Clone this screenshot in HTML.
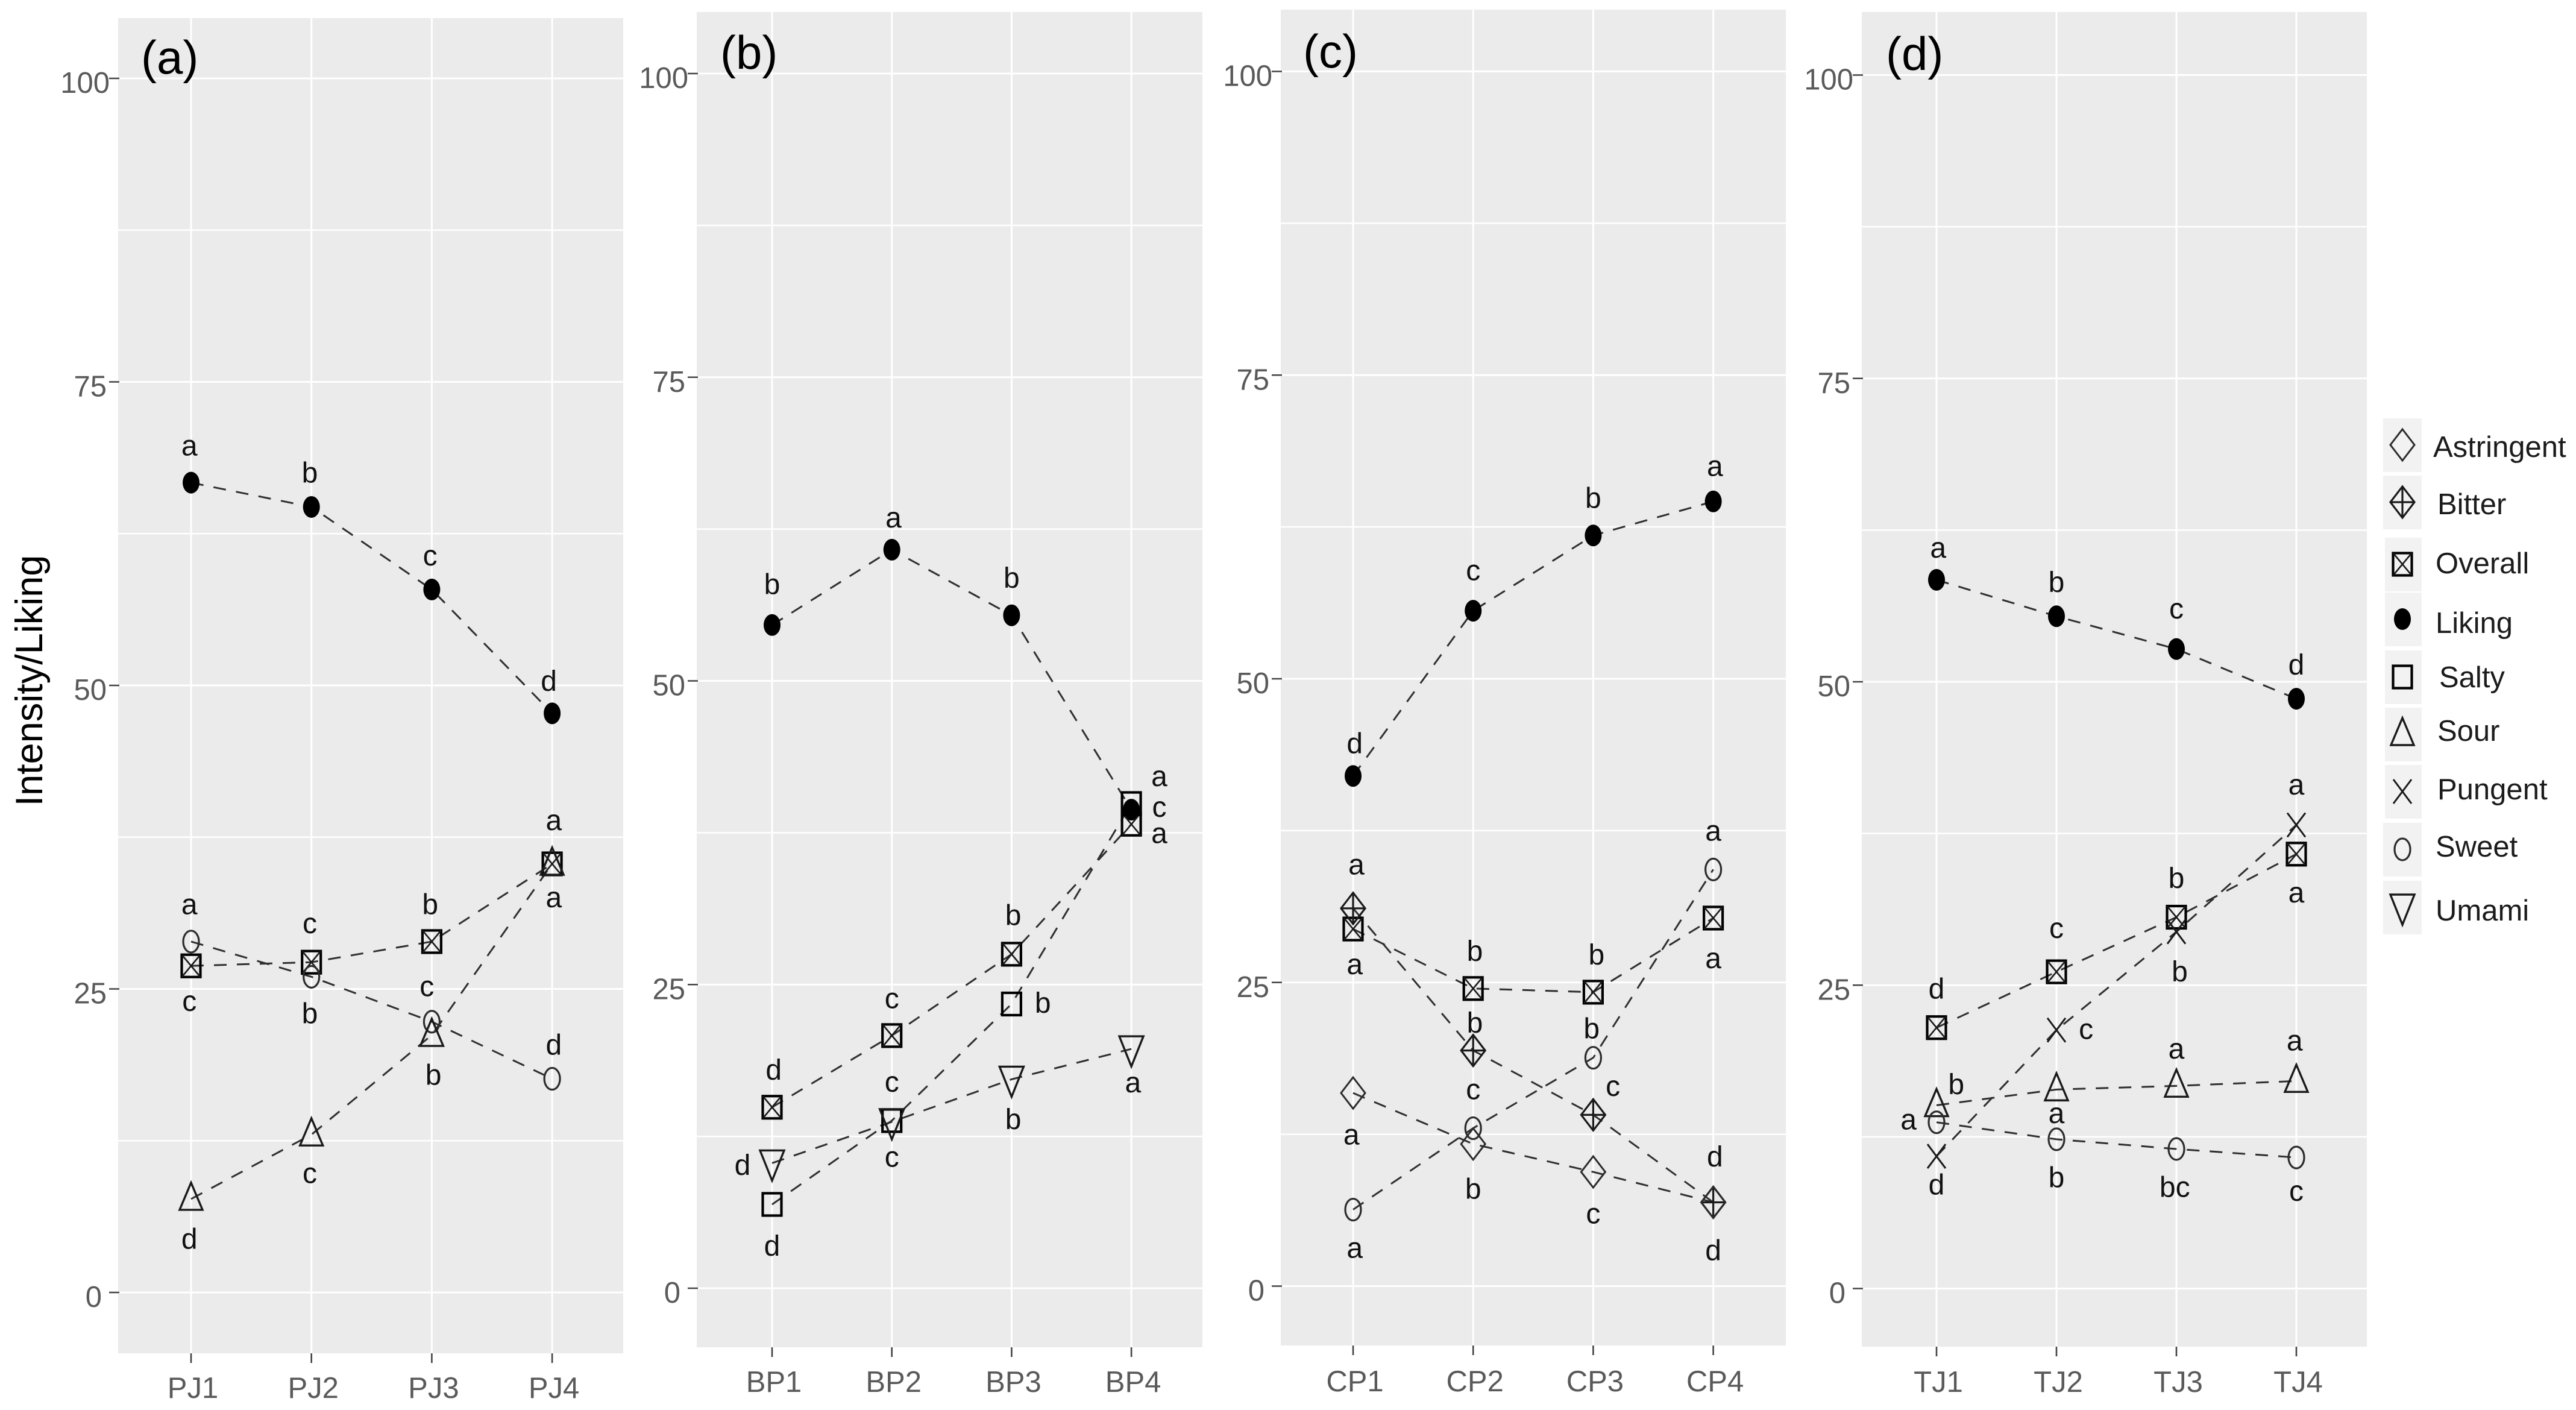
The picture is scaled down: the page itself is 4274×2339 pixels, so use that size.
<!DOCTYPE html>
<html lang="en">
<head>
<meta charset="utf-8">
<title>Intensity/Liking by sample</title>
<style>
html,body{margin:0;padding:0;background:#fff;}
svg{display:block;}
text{font-family:"Liberation Sans",Arial,sans-serif;}
</style>
</head>
<body>
<svg id="chart" xmlns="http://www.w3.org/2000/svg" width="4274" height="2339" viewBox="0 0 4274 2339">
<rect x="0" y="0" width="4274" height="2339" fill="#ffffff"/>
<text transform="translate(70 1129) rotate(-90)" text-anchor="middle" font-size="63" fill="#000000">Intensity/Liking</text>
</svg>
<script>
// ---- shared axis data ----
const yTickValues = [0, 25, 50, 75, 100];
const yMinorValues = [12.5, 37.5, 62.5, 87.5];

// ---- panel (a) data ----
const panelACategories = ['PJ1', 'PJ2', 'PJ3', 'PJ4'];
const panelALiking = [66.7, 64.7, 57.9, 47.7];
const panelAOverall = [26.9, 27.2, 28.9, 35.3];
const panelASweet = [28.9, 26.0, 22.3, 17.6];
const panelASour = [7.7, 13.0, 21.2, 35.3];
const panelALikingLetters = ['a', 'b', 'c', 'd'];
const panelAOverallLetters = ['c', 'c', 'b', 'a'];
const panelASweetLetters = ['a', 'b', 'c', 'd'];
const panelASourLetters = ['d', 'c', 'b', 'a'];

// ---- panel (b) data ----
const panelBCategories = ['BP1', 'BP2', 'BP3', 'BP4'];
const panelBLiking = [54.6, 60.8, 55.4, 39.4];
const panelBOverall = [14.9, 20.8, 27.5, 38.2];
const panelBSalty = [6.9, 13.8, 23.4, 39.9];
const panelBUmami = [10.3, 13.7, 17.2, 19.7];
const panelBLikingLetters = ['b', 'a', 'b', 'c'];
const panelBOverallLetters = ['d', 'c', 'b', 'a'];
const panelBSaltyLetters = ['d', 'c', 'b', 'a'];
const panelBUmamiLetters = ['d', 'c', 'b', 'a'];

// ---- panel (c) data ----
const panelCCategories = ['CP1', 'CP2', 'CP3', 'CP4'];
const panelCLiking = [42.0, 55.6, 61.8, 64.6];
const panelCOverall = [29.4, 24.5, 24.2, 30.3];
const panelCBitter = [31.1, 19.4, 14.1, 6.9];
const panelCAstringent = [15.9, 11.7, 9.4, 6.9];
const panelCSweet = [6.3, 13.0, 18.8, 34.3];
const panelCLikingLetters = ['d', 'c', 'b', 'a'];
const panelCOverallLetters = ['a', 'b', 'b', 'a'];
const panelCBitterLetters = ['a', 'b', 'c', 'd'];
const panelCAstringentLetters = ['a', 'b', 'c', 'd'];
const panelCSweetLetters = ['a', 'c', 'b', 'a'];

// ---- panel (d) data ----
const panelDCategories = ['TJ1', 'TJ2', 'TJ3', 'TJ4'];
const panelDLiking = [58.4, 55.4, 52.7, 48.6];
const panelDOverall = [21.5, 26.1, 30.6, 35.8];
const panelDPungent = [10.9, 21.3, 29.4, 38.2];
const panelDSour = [15.1, 16.4, 16.7, 17.1];
const panelDSweet = [13.7, 12.3, 11.5, 10.8];
const panelDLikingLetters = ['a', 'b', 'c', 'd'];
const panelDOverallLetters = ['d', 'c', 'b', 'a'];
const panelDPungentLetters = ['d', 'c', 'b', 'a'];
const panelDSourLetters = ['b', 'a', 'a', 'a'];
const panelDSweetLetters = ['a', 'b', 'bc', 'c'];

// ---- legend data ----
const legendNames = ['Astringent', 'Bitter', 'Overall', 'Liking', 'Salty', 'Sour', 'Pungent', 'Sweet', 'Umami'];

// ---- layout (not data) ----
const legendKeyLeft = [3954, 3954, 3957, 3957, 3957, 3957, 3957, 3954, 3954];
const legendKeyTop = [694, 789, 892, 983, 1079, 1174, 1269, 1365, 1461];
const legendTextLeft = [4037, 4044, 4041, 4041, 4047, 4044, 4044, 4041, 4041];
const legendTextBase = [758, 853, 951, 1050, 1140, 1229, 1326, 1421, 1527];

const layoutScale = 2.726;
const panels = [
  { id: 'a', tag: '(a)', tagX: 234, tagY: 122, left: 196, right: 1034, top: 30, bottom: 2245, x0: 317, xStep: 199.7, yZero: 2144, yUnit: 20.14, xLabelBase: 2319, categories: panelACategories,
    series: [
      { kind: 'Liking', values: panelALiking, letters: panelALikingLetters, nudges: [[-1,-21],[-1,-21],[-1,-19],[-2,-20]] },
      { kind: 'Overall', values: panelAOverall, letters: panelAOverallLetters, nudges: [[-1,23],[-1,-22],[-1,-23],[1,22]] },
      { kind: 'Sweet', values: panelASweet, letters: panelASweetLetters, nudges: [[-1,-21],[-1,22],[-3,-20],[1,-21]] },
      { kind: 'Sour', values: panelASour, letters: panelASourLetters, nudges: [[-1,24],[-1,25],[1,24],[1,-25]] }
    ] },
  { id: 'b', tag: '(b)', tagX: 1195, tagY: 114, left: 1156, right: 1995, top: 20, bottom: 2235, x0: 1281, xStep: 198.7, yZero: 2137, yUnit: 20.15, xLabelBase: 2309, categories: panelBCategories,
    series: [
      { kind: 'Liking', values: panelBLiking, letters: panelBLikingLetters, nudges: [[0,-25],[1,-18],[0,-23],[17,0]] },
      { kind: 'Overall', values: panelBOverall, letters: panelBOverallLetters, nudges: [[1,-23],[0,-21],[1,-24],[17,7]] },
      { kind: 'Salty', values: panelBSalty, letters: panelBSaltyLetters, nudges: [[0,25],[0,-22],[19,-1],[17,-15]] },
      { kind: 'Umami', values: panelBUmami, letters: panelBUmamiLetters, nudges: [[-18,1],[0,23],[1,24],[1,22]] }
    ] },
  { id: 'c', tag: '(c)', tagX: 2162, tagY: 112, left: 2125, right: 2963, top: 16, bottom: 2232, x0: 2245, xStep: 199.2, yZero: 2133.5, yUnit: 20.15, xLabelBase: 2308, categories: panelCCategories,
    series: [
      { kind: 'Liking', values: panelCLiking, letters: panelCLikingLetters, nudges: [[1,-20],[0,-23],[0,-23],[1,-20]] },
      { kind: 'Overall', values: panelCOverall, letters: panelCOverallLetters, nudges: [[1,23],[1,-23],[2,-23],[0,26]] },
      { kind: 'Bitter', values: panelCBitter, letters: panelCBitterLetters, nudges: [[2,-25],[1,-17],[12,-16],[1,-28]] },
      { kind: 'Astringent', values: panelCAstringent, letters: panelCAstringentLetters, nudges: [[-1,27],[0,27],[0,27],[0,29]] },
      { kind: 'Sweet', values: panelCSweet, letters: panelCSweetLetters, nudges: [[1,25],[0,-22],[-1,-18],[0,-22]] }
    ] },
  { id: 'd', tag: '(d)', tagX: 3129, tagY: 116, left: 3089, right: 3927, top: 20, bottom: 2234, x0: 3213, xStep: 199, yZero: 2137.5, yUnit: 20.13, xLabelBase: 2309, categories: panelDCategories,
    series: [
      { kind: 'Liking', values: panelDLiking, letters: panelDLikingLetters, nudges: [[1,-18],[0,-21],[0,-23],[0,-21]] },
      { kind: 'Overall', values: panelDOverall, letters: panelDOverallLetters, nudges: [[0,-24],[0,-25],[0,-24],[0,25]] },
      { kind: 'Pungent', values: panelDPungent, letters: panelDPungentLetters, nudges: [[0,17],[18,1],[2,24],[0,-23]] },
      { kind: 'Sour', values: panelDSour, letters: panelDSourLetters, nudges: [[12,-13],[0,16],[0,-21],[-1,-23]] },
      { kind: 'Sweet', values: panelDSweet, letters: panelDSweetLetters, nudges: [[-17,0],[0,23],[-1,23],[0,22]] }
    ] }
];

const svgNS = 'http://www.w3.org/2000/svg';
const chart = document.getElementById('chart');

function make(parent, tag, attrs) {
  const node = document.createElementNS(svgNS, tag);
  for (const key in attrs) node.setAttribute(key, attrs[key]);
  parent.appendChild(node);
  return node;
}

function pathMarker(parent, d, extra) {
  const node = make(parent, 'path', Object.assign({ d: d, fill: 'none', stroke: '#1a1a1a', 'stroke-width': 3.2 }, extra || {}));
  return node;
}

function drawMarker(parent, kind, cx, cy) {
  const g = make(parent, 'g', { transform: 'translate(' + cx + ' ' + cy + ')' });
  if (kind === 'Liking') {
    make(g, 'ellipse', { cx: 0, cy: 0, rx: 14, ry: 18, fill: '#000' });
  } else if (kind === 'Sweet') {
    make(g, 'ellipse', { cx: 0, cy: 0, rx: 13, ry: 18, fill: 'none', stroke: '#2c2c2c', 'stroke-width': 3.2 });
  } else if (kind === 'Salty') {
    make(g, 'rect', { x: -15.5, y: -18.5, width: 31, height: 37, fill: 'none', stroke: '#000', 'stroke-width': 4.2 });
  } else if (kind === 'Overall') {
    make(g, 'rect', { x: -15.5, y: -18.5, width: 31, height: 37, fill: 'none', stroke: '#000', 'stroke-width': 4.2 });
    pathMarker(g, 'M-15 -18L15 18M15 -18L-15 18', { 'stroke-width': 2.6 });
  } else if (kind === 'Sour') {
    pathMarker(g, 'M0 -27L19 18L-19 18Z', { 'stroke-width': 3.4 });
  } else if (kind === 'Umami') {
    pathMarker(g, 'M-20 -21L20 -21L0 29Z', { 'stroke-width': 3.4 });
  } else if (kind === 'Pungent') {
    pathMarker(g, 'M-15 -20L15 20M15 -20L-15 20', { 'stroke-width': 3 });
  } else if (kind === 'Astringent') {
    pathMarker(g, 'M0 -26L20 0L0 26L-20 0Z', { stroke: '#2c2c2c', 'stroke-width': 3 });
  } else if (kind === 'Bitter') {
    pathMarker(g, 'M0 -26L20 0L0 26L-20 0Z', { 'stroke-width': 3.2 });
    pathMarker(g, 'M-20 0L20 0M0 -26L0 26', { 'stroke-width': 3.2 });
  }
  return g;
}

function drawPanel(p) {
  const xScale = function (i) { return p.x0 + i * p.xStep; };
  const yScale = function (v) { return p.yZero - v * p.yUnit; };

  const group = make(chart, 'g', {});
  
  

  const background = make(group, 'rect', { x: p.left, y: p.top, width: p.right - p.left, height: p.bottom - p.top, fill: '#ebebeb' });
  
  

  yMinorValues.forEach(function (v) {
    const grid = make(group, 'line', { x1: p.left, x2: p.right, y1: yScale(v), y2: yScale(v), stroke: '#fff', 'stroke-width': 2.5 });
    
    
  });

  yTickValues.forEach(function (v) {
    const grid = make(group, 'line', { x1: p.left, x2: p.right, y1: yScale(v), y2: yScale(v), stroke: '#fff', 'stroke-width': 3 });
    
    

    const tick = make(group, 'line', { x1: p.left - 15, x2: p.left + 2, y1: yScale(v), y2: yScale(v), stroke: '#444', 'stroke-width': 2.6 });
    
    

    const gap = v === 100 ? 14 : (v === 0 ? 27 : 19);
    const label = make(group, 'text', { x: p.left - gap, y: yScale(v) + 24, 'text-anchor': 'end', 'font-size': 49, fill: '#5a5a5a' });
    label.textContent = String(v);
    
    
  });

  p.categories.forEach(function (name, i) {
    const grid = make(group, 'line', { x1: xScale(i), x2: xScale(i), y1: p.top, y2: p.bottom, stroke: '#fff', 'stroke-width': 3 });
    
    

    const tick = make(group, 'line', { x1: xScale(i), x2: xScale(i), y1: p.bottom, y2: p.bottom + 16, stroke: '#444', 'stroke-width': 2.6 });
    
    

    const label = make(group, 'text', { x: xScale(i) + 3, y: p.xLabelBase, 'text-anchor': 'middle', 'font-size': 49, fill: '#5a5a5a' });
    label.textContent = name;
    
    
  });

  const tag = make(group, 'text', { x: p.tagX, y: p.tagY, 'font-size': 78, fill: '#000' });
  tag.textContent = p.tag;
  
  

  p.series.forEach(function (s) {
    const points = s.values.map(function (v, i) { return xScale(i) + ',' + yScale(v); }).join(' ');
    const line = make(group, 'polyline', { points: points, fill: 'none', stroke: '#303030', 'stroke-width': 3, 'stroke-dasharray': '21 17' });
    
    
  });

  p.series.forEach(function (s) {
    s.values.forEach(function (v, i) {
      const marker = drawMarker(group, s.kind, xScale(i), yScale(v));
      
      
    });
  });

  p.series.forEach(function (s) {
    s.letters.forEach(function (letter, i) {
      const nudge = s.nudges[i];
      const tall = /[bd]/.test(letter);
      const text = make(group, 'text', {
        x: xScale(i) + nudge[0] * layoutScale,
        y: yScale(s.values[i]) + nudge[1] * layoutScale + (tall ? 17 : 12),
        'text-anchor': 'middle',
        'font-size': 48,
        fill: '#111'
      });
      text.textContent = letter;
      
      
    });
  });
}

panels.forEach(drawPanel);

const legend = make(chart, 'g', {});



legendNames.forEach(function (name, i) {
  const entry = make(legend, 'g', {});
  
  

  const key = make(entry, 'rect', { x: legendKeyLeft[i], y: legendKeyTop[i], width: 4018 - legendKeyLeft[i], height: 89, fill: '#f2f2f2' });
  
  

  const symbol = drawMarker(entry, name, 3986, legendKeyTop[i] + 44);
  
  

  const text = make(entry, 'text', { x: legendTextLeft[i], y: legendTextBase[i], 'font-size': 49, fill: '#1c1c1c' });
  text.textContent = name;
  
  
});
</script>
</body>
</html>
